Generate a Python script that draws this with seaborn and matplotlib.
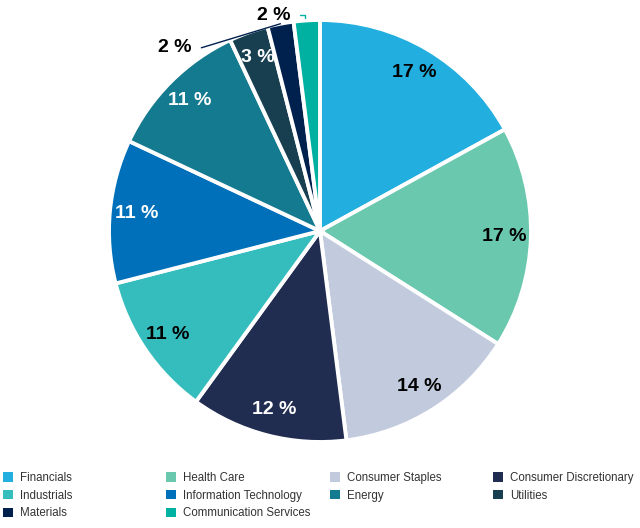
#Grafico de pastel por sector, con leyenda abajo en 4 columnas
import matplotlib
matplotlib.use("Agg")
import matplotlib.pyplot as plt
import seaborn as sns
import numpy as np

sectors = ["Financials", "Health Care", "Consumer Staples", "Consumer Discretionary",
           "Industrials", "Information Technology", "Energy", "Utilities",
           "Materials", "Communication Services"]
weights = [17, 17, 14, 12, 11, 11, 11, 3, 2, 2]
sector_colors = ["#22AEDF", "#6AC8AE", "#C2CBDD", "#212D50", "#35BDBD",
                 "#0070BA", "#147A8F", "#173F50", "#00204D", "#00B0A0"]

sns.set_theme(style="white")
plt.rcParams['font.family'] = ['Liberation Sans', 'DejaVu Sans']

fig = plt.figure(figsize=(6.4, 5.28), dpi=100)
#el pastel: centro (320,231) px, radio 211 px
ax = fig.add_axes([(320 - 211) / 640, (528 - 231 - 211) / 528, 422 / 640, 422 / 528])
colors = sns.color_palette(sector_colors)

wedges, texts = ax.pie(weights, colors=colors, startangle=90, counterclock=False,
                       radius=1, wedgeprops=dict(edgecolor="white", linewidth=2.8))
ax.set_xlim(-1, 1)
ax.set_ylim(-1, 1)
ax.axis("off")

#Etiquetas dentro de cada trozo, las chicas van afuera
for i, w in enumerate(wedges):
    ang = np.deg2rad((w.theta1 + w.theta2) / 2)
    label = "{} %".format(weights[i])
    if weights[i] >= 3:
        r, g, b = colors[i]
        lum = 0.299 * r + 0.587 * g + 0.114 * b
        txt_color = "black" if lum > 0.45 else "white"
        ax.text(0.875 * np.cos(ang), 0.875 * np.sin(ang), label, ha="center", va="center",
                fontsize=14, fontweight="bold", color=txt_color)
    else:
        x0, y0 = np.cos(ang), np.sin(ang)
        if i == 8:
            #linea larga hacia la izquierda
            lx, ly = x0 - 0.375, y0 - 0.114
            ax.plot([x0, lx], [y0, ly], color=colors[i], lw=1, clip_on=False)
            ax.text(lx - 0.047, ly, label, ha="right", va="center",
                    fontsize=14, fontweight="bold", color="black")
        else:
            #conector corto en forma de gancho
            ax.plot([x0 - 0.01, x0 - 0.01, x0 - 0.032], [y0 + 0.01, y0 + 0.028, y0 + 0.028],
                    color=colors[i], lw=1, clip_on=False)
            ax.text(x0 - 0.079, y0 + 0.022, label, ha="right", va="center",
                    fontsize=14, fontweight="bold", color="black")

#Leyenda: 4 columnas de ancho fijo
col_x = [3, 166, 330, 493]
for c in range(4):
    idx = list(range(c, len(sectors), 4))
    leg = fig.legend([wedges[k] for k in idx], [sectors[k] for k in idx],
                     loc="upper left", bbox_to_anchor=(col_x[c] / 640, 1 - 472 / 528),
                     frameon=False, fontsize=8.3, handlelength=0.87, handleheight=0.87,
                     handletextpad=0.6, labelspacing=0.49, borderpad=0, borderaxespad=0)
    for t in leg.get_texts():
        t.set_color("#333333")
    for h in leg.legend_handles:
        h.set_linewidth(0)

plt.savefig("out.png", dpi=100)
